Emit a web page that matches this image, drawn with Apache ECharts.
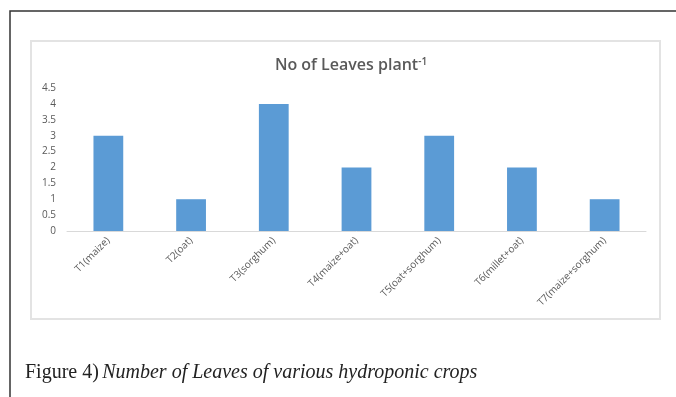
<!DOCTYPE html>
<html><head><meta charset="utf-8">
<script src="https://cdn.jsdelivr.net/npm/echarts@6/dist/echarts.min.js"></script>
<style>html,body{margin:0;padding:0;background:#fff;}#c{width:676px;height:397px;}</style>
</head><body><div id="c"></div>
<script>
const categories = ["T1(maize)","T2(oat)","T3(sorghum)","T4(maize+oat)","T5(oat+sorghum)","T6(millet+oat)","T7(maize+sorghum)"];
const leaves = [3, 1, 4, 2, 3, 2, 1];
const yTicks = {min: 0, max: 4.5, interval: 0.5};

const chart = echarts.init(document.getElementById('c'), null, {renderer: 'canvas'});
chart.setOption({
  animation: false,
  backgroundColor: '#fff',
  graphic: [
    {type: 'rect', shape: {x: 10, y: 11, width: 700, height: 420}, style: {fill: 'none', stroke: '#333', lineWidth: 1.5}, z: 0},
    {type: 'rect', shape: {x: 31, y: 41, width: 629, height: 278}, style: {fill: 'none', stroke: '#e3e3e3', lineWidth: 2}, z: 0},
    {type: 'text', left: 25, top: 363, style: {
      text: '{b|Figure 4)} {i|Number of Leaves of various hydroponic crops}',
      rich: {
        b: {fontFamily: 'Liberation Serif', fontSize: 20, fill: '#222'},
        i: {fontFamily: 'Liberation Serif', fontStyle: 'italic', fontSize: 20, fill: '#222'}
      }
    }}
  ],
  title: {
    text: '{t|No of Leaves plant}{s|-1}',
    left: 346, top: 52, textAlign: 'center',
    textStyle: {
      rich: {
        t: {fontFamily: 'Open Sans', fontSize: 16, fontWeight: 600, color: '#595959'},
        s: {fontFamily: 'Open Sans', fontSize: 10, fontWeight: 600, color: '#595959', verticalAlign: 'top', padding: [0,0,7,0]}
      }
    }
  },
  grid: {left: 67, right: 30, top: 88, bottom: 166, containLabel: false},
  xAxis: {
    type: 'category', data: categories,
    axisLine: {lineStyle: {color: '#d9d9d9', width: 1}},
    axisTick: {show: false},
    axisLabel: {rotate: 45, interval: 0, color: '#595959', fontSize: 10, fontFamily: 'Open Sans', margin: 8}
  },
  yAxis: {
    type: 'value', min: yTicks.min, max: yTicks.max, interval: yTicks.interval,
    axisLine: {show: false}, axisTick: {show: false}, splitLine: {show: false},
    axisLabel: {color: '#595959', fontSize: 10, fontFamily: 'Open Sans', margin: 11}
  },
  series: [{
    type: 'bar', data: leaves, barWidth: '36%',
    itemStyle: {color: '#5b9bd5'}
  }]
});
</script></body></html>
